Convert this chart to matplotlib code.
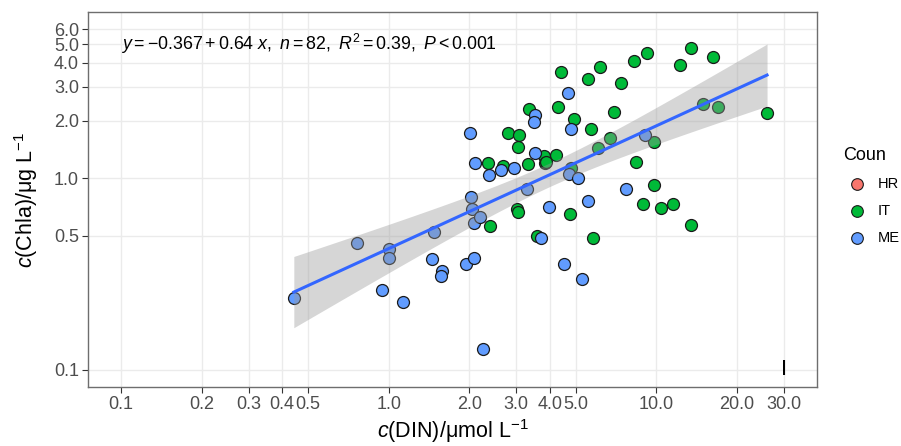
import numpy as np
import matplotlib
matplotlib.use("Agg")
import matplotlib.pyplot as plt
from matplotlib.lines import Line2D
from matplotlib.ticker import NullLocator

plt.rcParams['font.family'] = ['Liberation Sans', 'DejaVu Sans']
plt.rcParams['mathtext.fontset'] = 'custom'
plt.rcParams['mathtext.rm'] = 'Liberation Sans'
plt.rcParams['mathtext.it'] = 'Liberation Sans:italic'
plt.rcParams['mathtext.bf'] = 'Liberation Sans:bold'

# ---------------- data ----------------
me_din = [0.442, 0.760, 1.00, 1.00, 0.942, 1.128, 1.472, 1.447, 1.577, 1.563,
          1.938, 2.076, 2.023, 2.040, 2.076, 2.204, 3.302, 3.988, 3.723, 4.536,
          2.243, 2.006, 2.094, 2.381, 2.640, 2.952, 3.536, 3.536, 3.506, 4.695,
          4.818, 4.736, 5.117, 7.730, 5.576, 5.295, 9.100]
me_chla = [0.237, 0.459, 0.427, 0.383, 0.261, 0.226, 0.523, 0.379, 0.328, 0.309,
           0.357, 0.383, 0.796, 0.690, 0.583, 0.626, 0.877, 0.706, 0.487, 0.357,
           0.1287, 1.716, 1.197, 1.037, 1.101, 1.127, 1.349, 2.129, 1.957, 2.772,
           1.800, 1.049, 1.00, 0.877, 0.759, 0.298, 1.675]

it_din = [2.361, 2.686, 2.804, 3.082, 3.056, 3.330, 3.820, 3.853, 4.236, 3.358,
          4.309, 4.422, 5.576, 6.181, 8.277, 9.257, 7.404, 4.943, 5.721, 6.970,
          6.735, 9.829, 6.076, 4.818, 8.420, 9.829, 4.777, 8.945, 10.44, 11.57,
          13.51, 5.820, 2.402, 3.029, 3.056, 3.597, 13.51, 12.29, 16.32, 14.98,
          17.03, 25.96, 3.887]
it_chla = [1.197, 1.155, 1.716, 1.675, 1.450, 1.183, 1.302, 1.197, 1.318, 2.287,
           2.343, 3.565, 3.279, 3.786, 4.068, 4.478, 3.125, 2.029, 1.800, 2.207,
           1.616, 1.540, 1.433, 1.127, 1.212, 0.919, 0.649, 0.732, 0.698, 0.732,
           0.569, 0.487, 0.562, 0.690, 0.665, 0.499, 4.754, 3.878, 4.267, 2.429,
           2.343, 2.181, 1.212]

countries = ["HR", "IT", "ME"]
country_colors = ["#F8766D", "#00BA38", "#619CFF"]

# regression (log10 space) as reported in the annotation
intercept = -0.367
slope = 0.64

x_ticks = [0.1, 0.2, 0.3, 0.4, 0.5, 1.0, 2.0, 3.0, 4.0, 5.0, 10.0, 20.0, 30.0]
x_tick_labels = ["0.1", "0.2", "0.3", "0.4", "0.5", "1.0", "2.0", "3.0", "4.0",
                 "5.0", "10.0", "20.0", "30.0"]
y_ticks = [0.1, 0.5, 1.0, 2.0, 3.0, 4.0, 5.0, 6.0]
y_tick_labels = ["0.1", "0.5", "1.0", "2.0", "3.0", "4.0", "5.0", "6.0"]

annotation = r"$y = -0.367 + 0.64\ x,\ n = 82,\ R^{2} = 0.39,\ P < 0.001$"

# ---------------- figure ----------------
W, H = 901, 446
fig = plt.figure(figsize=(W / 100, H / 100), dpi=100)
ax = fig.add_axes([88 / W, 1 - 387 / H, (817 - 88) / W, (387 - 12) / H])
ax.set_xscale('log')
ax.set_yscale('log')

lo, hi = np.log10(0.1), np.log10(30)
ax.set_xlim(10 ** (lo - 0.05 * (hi - lo)), 10 ** (hi + 0.05 * (hi - lo)))
lo, hi = np.log10(0.1), np.log10(6.0)
ax.set_ylim(10 ** (lo - 0.05 * (hi - lo)), 10 ** (hi + 0.05 * (hi - lo)))

ax.set_xticks(x_ticks)
ax.set_xticklabels(x_tick_labels)
ax.set_yticks(y_ticks)
ax.set_yticklabels(y_tick_labels)
ax.xaxis.set_minor_locator(NullLocator())
ax.yaxis.set_minor_locator(NullLocator())

ax.grid(True, which='major', color='#EBEBEB', linewidth=1.0, zorder=0)
ax.set_axisbelow(True)
for sp in ax.spines.values():
    sp.set_color('#6E6E6E')
    sp.set_linewidth(1.0)
ax.tick_params(axis='both', colors='#333333', labelcolor='#4D4D4D',
               labelsize=13, length=4, width=0.8, pad=2.5)

# points
ax.scatter(it_din, it_chla, s=74, c=country_colors[1], edgecolors='#1A1A1A',
           linewidths=0.9, zorder=3)
ax.scatter(me_din, me_chla, s=74, c=country_colors[2], edgecolors='#1A1A1A',
           linewidths=0.9, zorder=3)

# regression line + 95% confidence band in log space
lx = np.log10(np.array(me_din + it_din))
ly = np.log10(np.array(me_chla + it_chla))
n = len(lx)
resid = ly - (intercept + slope * lx)
s = np.sqrt(np.sum(resid ** 2) / (n - 2))
xbar = lx.mean()
sxx = np.sum((lx - xbar) ** 2)
xs = np.linspace(lx.min(), lx.max(), 100)
fit = intercept + slope * xs
se = s * np.sqrt(1.0 / n + (xs - xbar) ** 2 / sxx)
tq = 1.99
ax.fill_between(10 ** xs, 10 ** (fit - tq * se), 10 ** (fit + tq * se),
                color='#999999', alpha=0.4, linewidth=0, zorder=4)
ax.plot(10 ** xs, 10 ** fit, color='#3366FF', linewidth=2.2, zorder=5)

ax.text(0.1, 5.0, annotation, ha='left', va='center', fontsize=12.8,
        color='black', zorder=6)
ax.text(30, 0.1, "I", ha='center', va='center', fontsize=16, color='black',
        zorder=6)

ax.set_xlabel(r"$c$(DIN)/μmol L$^{-1}$", fontsize=15.5, labelpad=3)
ax.set_ylabel(r"$c$(Chla)/μg L$^{-1}$", fontsize=15.5, labelpad=10)

# legend (manual, figure coordinates)
fig.text(843 / W, 1 - 155 / H, "Coun", ha='left', va='center', fontsize=13)
leg_y = [184, 211, 238]
for lab, col, yy in zip(countries, country_colors, leg_y):
    fig.add_artist(Line2D([857 / W], [1 - yy / H], transform=fig.transFigure,
                          marker='o', markersize=8.4, markerfacecolor=col,
                          markeredgecolor='#1A1A1A', markeredgewidth=0.8,
                          linestyle='none'))
    fig.text(878 / W, 1 - yy / H, lab, ha='left', va='center', fontsize=10.5)

fig.savefig("out.png", dpi=100)
